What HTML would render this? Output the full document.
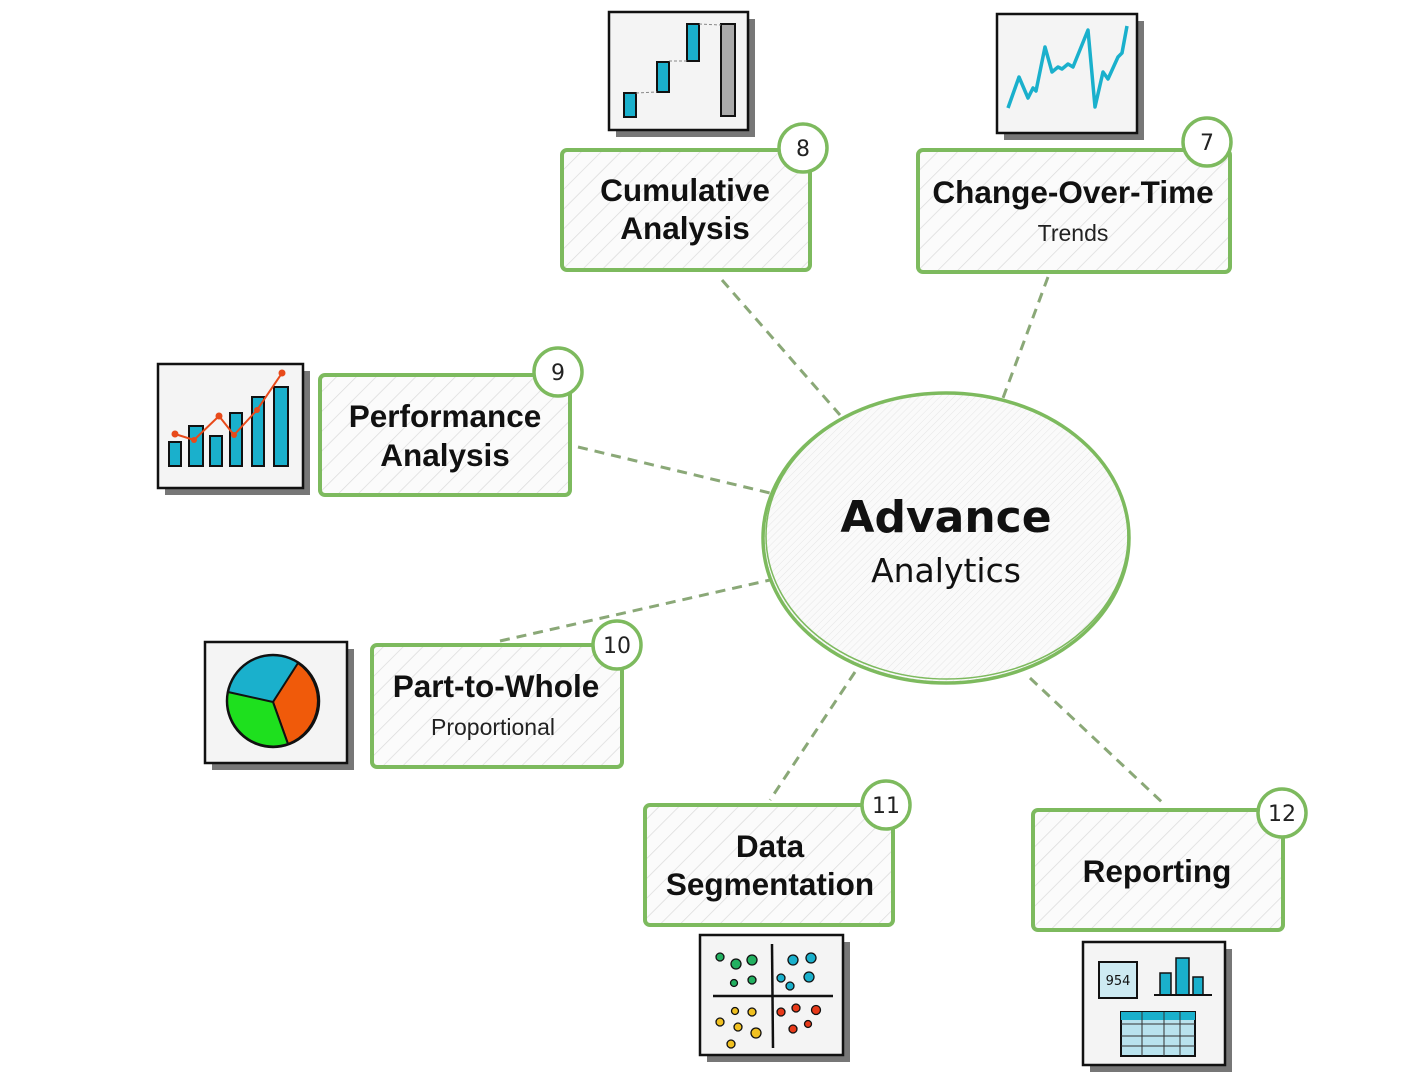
<!DOCTYPE html>
<html><head><meta charset="utf-8"><style>
html,body{margin:0;padding:0;background:#fff;}
svg{display:block;}
.t{font-family:"Liberation Sans",sans-serif;font-weight:bold;font-size:31.5px;fill:#111;text-anchor:middle;}
.s{font-family:"Liberation Sans",sans-serif;font-size:23px;fill:#222;text-anchor:middle;}
.n{font-family:"Comic Sans MS","DejaVu Sans",sans-serif;font-size:22px;fill:#222;text-anchor:middle;}
.box{fill:url(#hatch);stroke:#7dba5e;stroke-width:4;}
.badge{fill:#fff;stroke:#7dba5e;stroke-width:3.5;}
.con{stroke:#8aa877;stroke-width:3;stroke-dasharray:10 7;fill:none;}
.img{fill:#f4f4f4;stroke:#111;stroke-width:2.5;}
.sh{fill:#777;}
</style></head><body>
<svg width="1418" height="1079" viewBox="0 0 1418 1079" xmlns="http://www.w3.org/2000/svg">
<defs>
<pattern id="hatch" width="14" height="14" patternUnits="userSpaceOnUse" patternTransform="rotate(45)">
<rect width="14" height="14" fill="#fbfbfb"/>
<line x1="0" y1="0" x2="0" y2="14" stroke="#dcdcdc" stroke-width="1.5"/>
</pattern>
<pattern id="dots" width="5" height="5" patternUnits="userSpaceOnUse" patternTransform="rotate(45)">
<rect width="5" height="5" fill="#fafafa"/>
<line x1="0" y1="0" x2="0" y2="5" stroke="#e6e6e6" stroke-width="1"/>
</pattern>
</defs>

<line class="con" x1="722" y1="280" x2="840" y2="415"/>
<line class="con" x1="1048" y1="277" x2="1003" y2="398"/>
<line class="con" x1="578" y1="447" x2="770" y2="493"/>
<line class="con" x1="500" y1="641" x2="770" y2="580"/>
<line class="con" x1="855" y1="672" x2="770" y2="800"/>
<line class="con" x1="1030" y1="678" x2="1165" y2="805"/>

<ellipse cx="946" cy="538" rx="183" ry="145" fill="url(#dots)" stroke="#7dba5e" stroke-width="3.5"/>
<ellipse cx="947" cy="536" rx="181" ry="143" fill="none" stroke="#7dba5e" stroke-width="1.5"/>
<text x="946" y="532" font-family="'Comic Sans MS','DejaVu Sans',sans-serif" font-size="44" font-weight="bold" fill="#111" text-anchor="middle">Advance</text>
<text x="946" y="582" font-family="'Comic Sans MS','DejaVu Sans',sans-serif" font-size="33" fill="#111" text-anchor="middle">Analytics</text>

<rect class="box" x="562" y="150" width="248" height="120" rx="5"/>
<text class="t" x="685" y="201">Cumulative</text>
<text class="t" x="685" y="239">Analysis</text>
<circle class="badge" cx="803" cy="148" r="24"/><text class="n" x="803" y="156">8</text>

<rect class="box" x="918" y="150" width="312" height="122" rx="5"/>
<text class="t" x="1073" y="203">Change-Over-Time</text>
<text class="s" x="1073" y="241">Trends</text>
<circle class="badge" cx="1207" cy="142" r="24"/><text class="n" x="1207" y="150">7</text>

<rect class="box" x="320" y="375" width="250" height="120" rx="5"/>
<text class="t" x="445" y="427">Performance</text>
<text class="t" x="445" y="466">Analysis</text>
<circle class="badge" cx="558" cy="372" r="24"/><text class="n" x="558" y="380">9</text>

<rect class="box" x="372" y="645" width="250" height="122" rx="5"/>
<text class="t" x="496" y="697">Part-to-Whole</text>
<text class="s" x="493" y="735">Proportional</text>
<circle class="badge" cx="617" cy="645" r="24"/><text class="n" x="617" y="653">10</text>

<rect class="box" x="645" y="805" width="248" height="120" rx="5"/>
<text class="t" x="770" y="857">Data</text>
<text class="t" x="770" y="895">Segmentation</text>
<circle class="badge" cx="886" cy="805" r="24"/><text class="n" x="886" y="813">11</text>

<rect class="box" x="1033" y="810" width="250" height="120" rx="5"/>
<text class="t" x="1157" y="882">Reporting</text>
<circle class="badge" cx="1282" cy="813" r="24"/><text class="n" x="1282" y="821">12</text>

<rect class="sh" x="616" y="19" width="139" height="118"/>
<rect class="img" x="609" y="12" width="139" height="118"/>
<rect x="624" y="93" width="12" height="24" fill="#1ab0cc" stroke="#111" stroke-width="2"/>
<rect x="657" y="62" width="12" height="30" fill="#1ab0cc" stroke="#111" stroke-width="2"/>
<rect x="687" y="24" width="12" height="37" fill="#1ab0cc" stroke="#111" stroke-width="2"/>
<rect x="721" y="24" width="14" height="92" fill="#aaa" stroke="#111" stroke-width="2"/>
<line x1="636" y1="93" x2="657" y2="92" stroke="#888" stroke-dasharray="3 2"/>
<line x1="669" y1="61" x2="687" y2="61" stroke="#888" stroke-dasharray="3 2"/>
<line x1="699" y1="24" x2="721" y2="25" stroke="#888" stroke-dasharray="3 2"/>

<rect class="sh" x="1004" y="21" width="140" height="119"/>
<rect class="img" x="997" y="14" width="140" height="119"/>
<polyline fill="none" stroke="#1ab0cc" stroke-width="3.5" stroke-linejoin="round" points="1008,108 1019,77 1028,98 1033,88 1036,91 1045,47 1052,72 1058,67 1062,69 1068,64 1073,67 1088,30 1095,107 1103,72 1108,79 1113,68 1118,57 1122,53 1127,26"/>

<rect class="sh" x="165" y="371" width="145" height="124"/>
<rect class="img" x="158" y="364" width="145" height="124"/>
<g fill="#1ab0cc" stroke="#111" stroke-width="2">
<rect x="169" y="442" width="12" height="24"/>
<rect x="189" y="426" width="14" height="40"/>
<rect x="210" y="436" width="12" height="30"/>
<rect x="230" y="413" width="12" height="53"/>
<rect x="252" y="397" width="12" height="69"/>
<rect x="274" y="387" width="14" height="79"/>
</g>
<polyline fill="none" stroke="#e84a1a" stroke-width="2" points="175,434 194,440 219,416 234,435 257,410 282,373"/>
<g fill="#e84a1a"><circle cx="175" cy="434" r="3.5"/><circle cx="194" cy="440" r="3"/><circle cx="219" cy="416" r="3.5"/><circle cx="234" cy="435" r="3"/><circle cx="257" cy="410" r="3"/><circle cx="282" cy="373" r="3.5"/></g>

<rect class="sh" x="212" y="649" width="142" height="121"/>
<rect class="img" x="205" y="642" width="142" height="121"/>
<circle cx="273" cy="701" r="46" fill="#1ab0cc" stroke="#111" stroke-width="2.5"/>
<path d="M273,702 L298,663 A46,46 0 0 1 288,744 Z" fill="#f05a0a" stroke="#111" stroke-width="2"/>
<path d="M273,702 L288,744 A46,46 0 0 1 228,692 Z" fill="#1ee01e" stroke="#111" stroke-width="2"/>

<rect class="sh" x="707" y="942" width="143" height="120"/>
<rect class="img" x="700" y="935" width="143" height="120"/>
<line x1="713" y1="996" x2="833" y2="996" stroke="#111" stroke-width="2.5"/>
<line x1="772" y1="944" x2="773" y2="1048" stroke="#111" stroke-width="2.5"/>
<g stroke="#111" stroke-width="1.3">
<g fill="#22b060"><circle cx="720" cy="957" r="4"/><circle cx="736" cy="964" r="5"/><circle cx="752" cy="960" r="5"/><circle cx="734" cy="983" r="3.5"/><circle cx="752" cy="980" r="4"/></g>
<g fill="#1ab0cc"><circle cx="793" cy="960" r="5"/><circle cx="811" cy="958" r="5"/><circle cx="781" cy="978" r="4"/><circle cx="809" cy="977" r="5"/><circle cx="790" cy="986" r="4"/></g>
<g fill="#f0c020"><circle cx="735" cy="1011" r="3.5"/><circle cx="752" cy="1012" r="4"/><circle cx="720" cy="1022" r="4"/><circle cx="738" cy="1027" r="4"/><circle cx="756" cy="1033" r="5"/><circle cx="731" cy="1044" r="4"/></g>
<g fill="#e83a1a"><circle cx="781" cy="1012" r="4"/><circle cx="796" cy="1008" r="4"/><circle cx="816" cy="1010" r="4.5"/><circle cx="808" cy="1024" r="3.5"/><circle cx="793" cy="1029" r="4"/></g>
</g>

<rect class="sh" x="1090" y="949" width="142" height="123"/>
<rect class="img" x="1083" y="942" width="142" height="123"/>
<rect x="1099" y="962" width="38" height="36" fill="#cdeaf2" stroke="#111" stroke-width="2"/>
<text x="1118" y="985" font-family="'DejaVu Sans',sans-serif" font-size="13" text-anchor="middle" fill="#111">954</text>
<g fill="#1ab0cc" stroke="#111" stroke-width="1.5"><rect x="1160" y="973" width="11" height="22"/><rect x="1176" y="958" width="13" height="37"/><rect x="1193" y="977" width="10" height="18"/></g>
<line x1="1154" y1="995" x2="1212" y2="995" stroke="#111" stroke-width="2"/>
<rect x="1121" y="1012" width="74" height="44" fill="#b9e3ee" stroke="#111" stroke-width="2"/>
<rect x="1121" y="1012" width="74" height="8" fill="#1ab0cc"/>
<g stroke="#333" stroke-width="1"><line x1="1121" y1="1024" x2="1195" y2="1024"/><line x1="1121" y1="1036" x2="1195" y2="1036"/><line x1="1121" y1="1046" x2="1195" y2="1046"/><line x1="1142" y1="1012" x2="1142" y2="1056"/><line x1="1164" y1="1012" x2="1164" y2="1056"/><line x1="1180" y1="1012" x2="1180" y2="1056"/></g>
</svg>
</body></html>
